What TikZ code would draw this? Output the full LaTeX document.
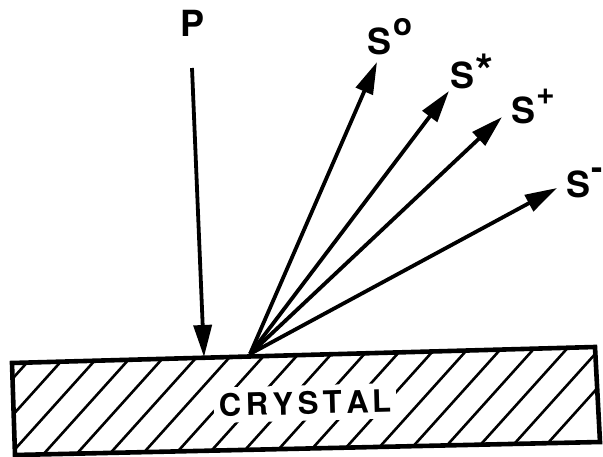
\documentclass[tikz,border=0pt]{standalone}
\usepackage{fontspec}
\setmainfont{TeX Gyre Heros}
\usetikzlibrary{arrows.meta}
\begin{document}
\begin{tikzpicture}[x=1pt,y=-1pt,
  ray/.style={line width=3.8pt, -{Triangle[length=32pt,width=18pt]}},
  lbl/.style={font=\fontsize{36}{36}\selectfont\bfseries, inner sep=0pt, anchor=base west},
  hatchline/.style={line width=2.6pt},
  border/.style={line width=4.6pt, line join=miter}]
\useasboundingbox (0,0) rectangle (603,456);
% crystal corners
\coordinate (c1) at (12,363);
\coordinate (c2) at (595,347);
\coordinate (c3) at (600,442);
\coordinate (c4) at (15,455);
% hatching
\begin{scope}
  \clip (c1)--(c2)--(c3)--(c4)--cycle;
  \foreach \k in {-4,...,18} {
    \pgfmathsetmacro\xx{27+33.8*\k}
    \pgfmathsetmacro\yy{363-16*(\xx-12)/583}
    \draw[hatchline] (\xx+18,\yy-20) -- (\xx-108,\yy+120);
  }
\end{scope}
\node[fill=white, inner xsep=5pt, inner ysep=6pt, rotate=1.5,
      font=\fontsize{31}{31}\selectfont\bfseries] (crystal) at (305,403)
  {C\kern4.5pt R\kern4.5pt Y\kern4.5pt S\kern4.5pt T\kern4.5pt A\kern3.5pt L};
\draw[border] (c1)--(c2)--(c3)--(c4)--cycle;
% incident beam
\node[lbl] (P) at (180,36) {P};
\coordinate (pstart) at (192,68);
\coordinate (ptip) at (204,357);
\draw[ray] (pstart) -- (ptip);
% scattered beams
\coordinate (hit) at (250,354);
\coordinate (t0) at (377,62);
\coordinate (ts) at (449,91);
\coordinate (tp) at (502,117);
\coordinate (tm) at (557,188);
\draw[ray] (hit) -- (t0);
\draw[ray] (hit) -- (ts);
\draw[ray] (hit) -- (tp);
\draw[ray] (hit) -- (tm);
% labels
\node[lbl] (S0) at (367,54) {S\kern2pt\raisebox{19pt}{\fontsize{31}{31}\selectfont\bfseries o}};
\node[lbl] (Ss) at (450,88) {S\kern1pt\raisebox{1pt}{\fontsize{46}{46}\selectfont\bfseries *}};
\node[lbl] (Sp) at (511,123) {S\kern1pt\raisebox{19pt}{\fontsize{32}{32}\selectfont\bfseries +}};
\node[lbl] (Sm) at (566,197) {S\kern1pt\raisebox{18pt}{\fontsize{34}{34}\selectfont\bfseries -}};
\end{tikzpicture}
\end{document}
